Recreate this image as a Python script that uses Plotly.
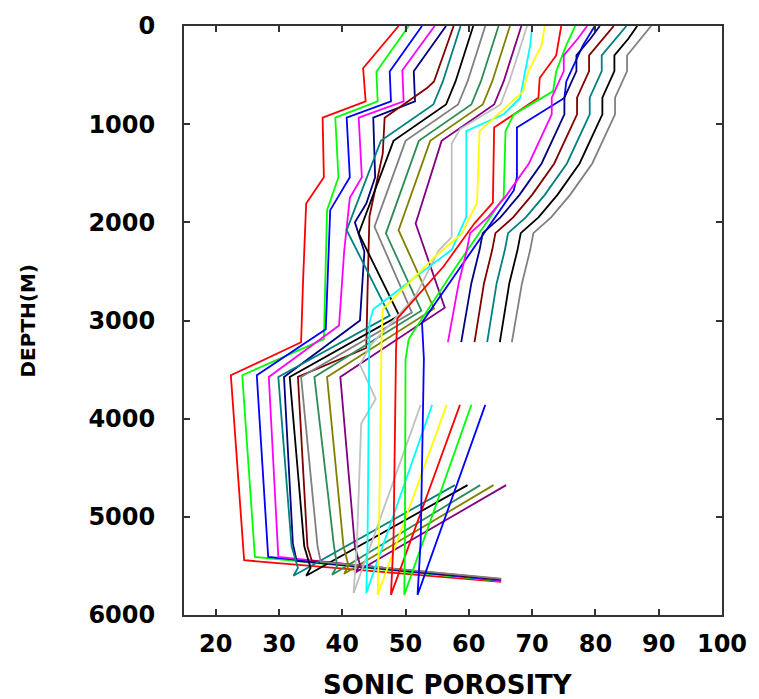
import plotly.graph_objects as go

# Sonic porosity versus depth, one curve per well
red_1_por = [48.9, 43.3, 43.7, 36.9, 37.1, 34.3, 33.8, 33.5, 22.4, 24.5, 65.1]
red_1_depth = [0, 430, 767, 934, 1540, 1809, 2617, 3222, 3558, 5442, 5663]

green_1_por = [50.5, 45.4, 45.6, 38.9, 39.4, 37.6, 37.1, 24.2, 26.2, 65.1]
green_1_depth = [0, 467, 767, 934, 1540, 1876, 3190, 3558, 5408, 5655]

blue_1_por = [52.6, 47.5, 47.7, 40.7, 41.2, 38.1, 37.4, 26.5, 28.3, 65.1]
blue_1_depth = [0, 464, 767, 934, 1540, 1876, 3088, 3558, 5408, 5650]

magenta_1_por = [54.6, 49.5, 49.7, 42.6, 43.1, 41.2, 40.3, 39.5, 28.4, 29.9, 65.1]
magenta_1_depth = [0, 450, 767, 934, 1540, 1750, 2300, 3050, 3575, 5408, 5645]

navy_1_por = [56.4, 51.3, 51.5, 44.9, 45.2, 43.8, 42.0, 43.5, 42.8, 30.8, 32.2, 32.8, 65.1]
navy_1_depth = [0, 460, 767, 934, 1540, 1809, 2000, 2300, 3000, 3575, 5273, 5450, 5640]

brown_1_por = [57.6, 56.0, 54.5, 53.4, 46.7, 46.4, 44.3, 44.0, 43.8, 33.0, 34.5, 35.2, 65.1]
brown_1_depth = [0, 300, 565, 632, 934, 1300, 1940, 2700, 3280, 3575, 5300, 5450, 5635]

teal_1_por = [58.7, 57.2, 55.9, 54.4, 48.2, 46.1, 40.7, 47.5, 29.9, 32.0, 33.0, 32.3, 57.8]
teal_1_depth = [0, 300, 565, 800, 1070, 1170, 2079, 2950, 3575, 5300, 5520, 5600, 4677]

black_1_por = [60.7, 59.2, 57.9, 56.4, 50.2, 48.1, 42.6, 49.0, 31.7, 34.0, 35.0, 34.3, 59.8]
black_1_depth = [0, 300, 565, 800, 1070, 1170, 2112, 2950, 3575, 5300, 5520, 5600, 4677]

gray_1_por = [62.6, 61.1, 59.8, 58.3, 52.1, 50.0, 45.1, 51.0, 33.5, 36.1, 36.6, 65.1]
gray_1_depth = [0, 300, 565, 800, 1070, 1170, 2045, 2920, 3575, 5300, 5460, 5630]

seagreen_1_por = [64.7, 63.2, 61.9, 60.4, 54.2, 52.1, 46.9, 52.5, 35.6, 38.7, 39.2, 38.4, 61.8]
seagreen_1_depth = [0, 300, 565, 800, 1070, 1170, 2112, 2900, 3575, 5300, 5500, 5590, 4677]

olive_1_por = [66.5, 65.0, 63.7, 62.2, 56.0, 53.9, 48.9, 54.5, 37.6, 40.2, 41.0, 40.3, 63.9]
olive_1_depth = [0, 300, 565, 800, 1070, 1170, 2079, 2880, 3575, 5300, 5500, 5580, 4677]

purple_1_por = [68.3, 66.8, 65.5, 64.0, 57.8, 55.7, 51.6, 56.2, 39.7, 42.0, 42.8, 42.0, 65.9]
purple_1_depth = [0, 300, 565, 800, 1070, 1170, 2012, 2870, 3575, 5300, 5490, 5570, 4677]

silver_1_por = [69.2, 67.7, 66.4, 65.0, 58.6, 57.3, 57.3, 55.2, 51.5, 44.5, 42.8, 45.3, 43.0, 42.3, 41.8, 52.4]
silver_1_depth = [0, 300, 565, 800, 1050, 1200, 2150, 2290, 2760, 3250, 3450, 3800, 4050, 5300, 5777, 3860]

cyan_1_por = [70.0, 69.7, 68.1, 65.5, 59.6, 59.6, 57.3, 53.1, 44.9, 44.3, 44.0, 43.8, 54.2]
cyan_1_depth = [0, 195, 733, 900, 1070, 1944, 2280, 2482, 2886, 3020, 5240, 5777, 3860]

yellow_1_por = [72.0, 71.5, 69.4, 68.6, 61.7, 61.3, 58.9, 54.7, 46.4, 46.2, 45.8, 45.6, 56.5]
yellow_1_depth = [0, 195, 464, 666, 1070, 1800, 2112, 2347, 2886, 3200, 5240, 5795, 3860]

red_2_por = [74.6, 73.8, 71.2, 71.0, 64.0, 63.8, 60.9, 56.0, 48.7, 48.5, 48.1, 47.7, 58.6]
red_2_depth = [0, 300, 530, 730, 1035, 1800, 2010, 2450, 2980, 3300, 5240, 5795, 3860]

green_2_por = [76.8, 75.4, 73.8, 73.3, 67.1, 65.8, 65.5, 58.0, 50.5, 50.0, 49.9, 49.8, 60.4]
green_2_depth = [0, 195, 464, 666, 901, 1070, 1750, 2450, 3189, 3400, 5240, 5795, 3860]

blue_2_por = [79.9, 78.0, 75.4, 75.1, 67.6, 67.6, 67.1, 52.6, 52.9, 52.4, 51.9, 62.6]
blue_2_depth = [0, 200, 565, 733, 1035, 1540, 1675, 3020, 3390, 5240, 5795, 3860]

# Shallow wells, logged to about 3200 m
shallow_depth = [0, 130, 300, 460, 730, 900, 1400, 1720, 1950, 2110, 2280, 2620, 3220]
magenta_2_por = [78.7, 77.2, 75.0, 75.0, 73.1, 73.1, 69.5, 66.0, 63.0, 60.2, 59.7, 58.4, 56.7]
navy_2_por = [80.7, 79.2, 77.0, 77.0, 75.1, 75.1, 71.5, 68.0, 65.0, 62.2, 61.7, 60.4, 58.8]
brown_2_por = [82.9, 81.2, 79.0, 79.0, 77.1, 77.1, 73.5, 70.0, 67.0, 64.2, 63.7, 62.4, 60.9]
teal_2_por = [84.9, 83.2, 81.0, 81.0, 79.1, 79.1, 75.5, 72.0, 69.0, 66.2, 65.7, 64.4, 62.9]
black_2_por = [86.6, 85.2, 83.0, 83.0, 81.1, 81.1, 77.5, 74.0, 71.0, 68.2, 67.7, 66.4, 64.9]
gray_2_por = [88.8, 87.2, 85.0, 85.0, 83.1, 83.1, 79.5, 76.0, 73.0, 70.2, 69.7, 68.4, 66.8]

wells = [
    ("#ff0000", red_1_por, red_1_depth),
    ("#00ff00", green_1_por, green_1_depth),
    ("#0000ff", blue_1_por, blue_1_depth),
    ("#ff00ff", magenta_1_por, magenta_1_depth),
    ("#000080", navy_1_por, navy_1_depth),
    ("#800000", brown_1_por, brown_1_depth),
    ("#008080", teal_1_por, teal_1_depth),
    ("#000000", black_1_por, black_1_depth),
    ("#808080", gray_1_por, gray_1_depth),
    ("#2e8b57", seagreen_1_por, seagreen_1_depth),
    ("#808000", olive_1_por, olive_1_depth),
    ("#800080", purple_1_por, purple_1_depth),
    ("#c0c0c0", silver_1_por, silver_1_depth),
    ("#00ffff", cyan_1_por, cyan_1_depth),
    ("#ffff00", yellow_1_por, yellow_1_depth),
    ("#ff0000", red_2_por, red_2_depth),
    ("#00ff00", green_2_por, green_2_depth),
    ("#0000ff", blue_2_por, blue_2_depth),
    ("#ff00ff", magenta_2_por, shallow_depth),
    ("#000080", navy_2_por, shallow_depth),
    ("#800000", brown_2_por, shallow_depth),
    ("#008080", teal_2_por, shallow_depth),
    ("#000000", black_2_por, shallow_depth),
    ("#808080", gray_2_por, shallow_depth),
]

x_ticks = [20, 30, 40, 50, 60, 70, 80, 90, 100]
y_ticks = [0, 1000, 2000, 3000, 4000, 5000, 6000]

fig = go.Figure()
for color, por, depth in wells:
    fig.add_trace(go.Scatter(x=por, y=depth, mode="lines",
                             line=dict(color=color, width=1.8),
                             hoverinfo="skip"))

tick_font = dict(family="DejaVu Sans", size=24, color="black", weight="bold")
axis_common = dict(showgrid=False, zeroline=False, showline=True,
                   linecolor="#333333", linewidth=2, mirror="ticks",
                   ticks="inside", ticklen=6, tickwidth=2, tickcolor="#333333",
                   tickfont=tick_font)

fig.update_xaxes(range=[15, 100], tickvals=x_ticks, ticklabelstandoff=6, **axis_common)
fig.update_yaxes(range=[6000, 0], tickvals=y_ticks, ticklabelstandoff=22, **axis_common)

fig.update_layout(
    width=759, height=699,
    margin=dict(l=184, r=27, t=21, b=84),
    paper_bgcolor="white", plot_bgcolor="white",
    showlegend=False,
    annotations=[
        dict(text="SONIC POROSITY", xref="paper", yref="paper",
             x=0.49, y=-0.118, xanchor="center", yanchor="middle",
             showarrow=False,
             font=dict(family="DejaVu Sans", size=26, color="black", weight="bold")),
        dict(text="DEPTH(M)", xref="paper", yref="paper",
             x=-0.29, y=0.5, xanchor="center", yanchor="middle",
             textangle=-90, showarrow=False,
             font=dict(family="DejaVu Sans", size=20, color="black", weight="bold")),
    ],
)

fig.write_html("out.html")
